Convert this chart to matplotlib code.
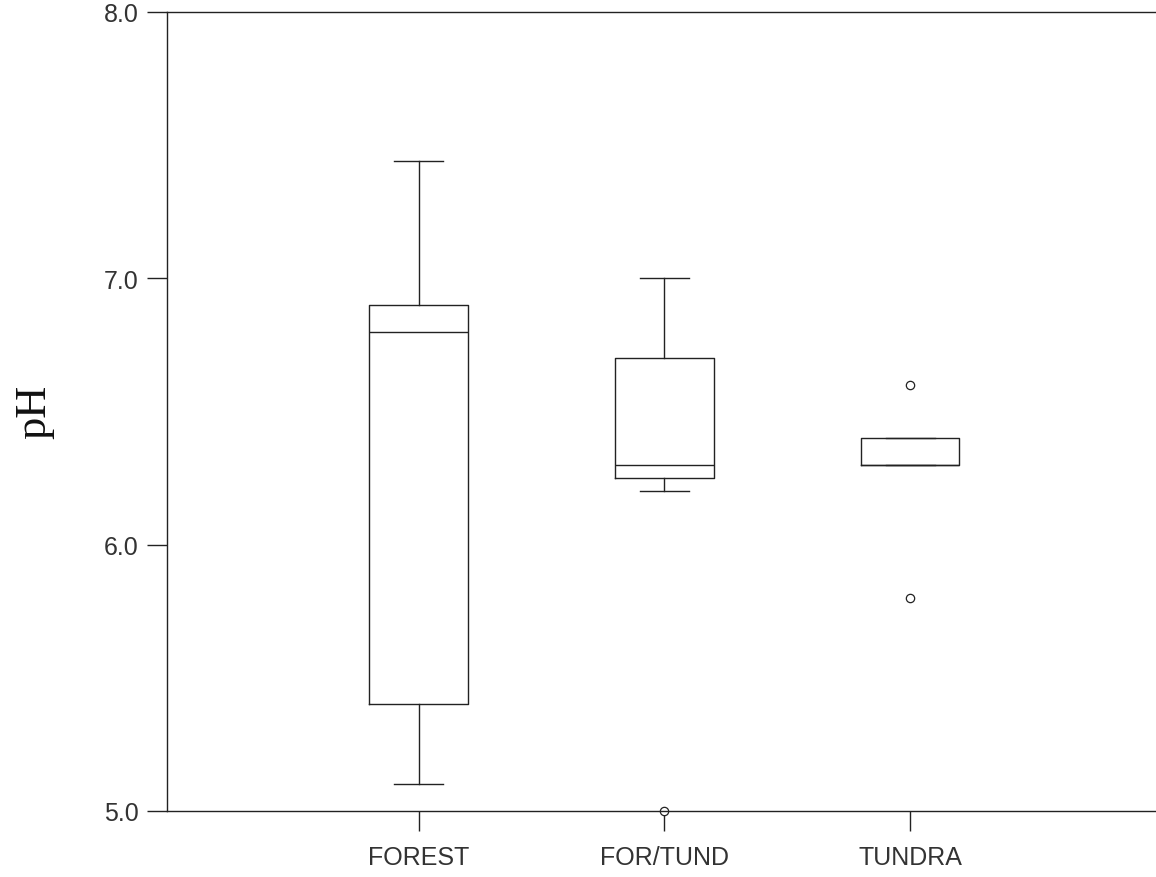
import matplotlib
matplotlib.use("Agg")
import matplotlib.pyplot as plt

# values
groups = ["FOREST", "FOR/TUND", "TUNDRA"]
whis_low = [5.10, 6.20, 6.30]
q1 = [5.40, 6.25, 6.30]
medians = [6.80, 6.30, 6.30]
q3 = [6.90, 6.70, 6.40]
whis_high = [7.44, 7.00, 6.40]
outliers = [[], [5.0], [6.6, 5.8]]

y_ticks = [5.0, 6.0, 7.0, 8.0]

stats = []
for i, name in enumerate(groups):
    stats.append({
        "label": name,
        "whislo": whis_low[i],
        "q1": q1[i],
        "med": medians[i],
        "q3": q3[i],
        "whishi": whis_high[i],
        "fliers": outliers[i],
    })

lc = "#222222"
lw = 1.0

fig = plt.figure(figsize=(11.56, 8.78), dpi=100)
ax = fig.add_axes([167.3 / 1156, 1 - 812 / 878, 1 - 167.3 / 1156, 799 / 878])

ax.bxp(stats, positions=[1, 2, 3], widths=0.4,
       boxprops=dict(color=lc, linewidth=lw),
       medianprops=dict(color=lc, linewidth=lw),
       whiskerprops=dict(color=lc, linewidth=lw),
       capprops=dict(color=lc, linewidth=lw),
       flierprops=dict(marker="o", markersize=6, markerfacecolor="white",
                       markeredgecolor=lc, markeredgewidth=0.9))
for art in ax.get_children():
    art.set_clip_on(False)

ax.set_xlim(-0.022, 4.0)
ax.set_ylim(5.0, 8.0)
ax.set_yticks(y_ticks)
ax.set_yticklabels([f"{v:.1f}" for v in y_ticks])
ax.set_xticks([1, 2, 3])
ax.set_xticklabels(groups)

ax.spines["right"].set_visible(False)
for s in ["left", "top", "bottom"]:
    ax.spines[s].set_color(lc)
    ax.spines[s].set_linewidth(lw)

ax.tick_params(axis="both", direction="out", length=14.5, width=lw, color=lc,
               labelsize=18, labelcolor="#333333")
ax.tick_params(axis="y", pad=6)
ax.tick_params(axis="x", pad=10)
for t in ax.get_xticklabels() + ax.get_yticklabels():
    t.set_family(["Liberation Sans", "DejaVu Sans"])

fig.text(34 / 1156, 1 - 412 / 878, "pH", rotation=90, ha="center", va="center",
         fontsize=32, family=["Liberation Serif", "DejaVu Serif"], color="#111111")

fig.savefig("out.png", dpi=100)
